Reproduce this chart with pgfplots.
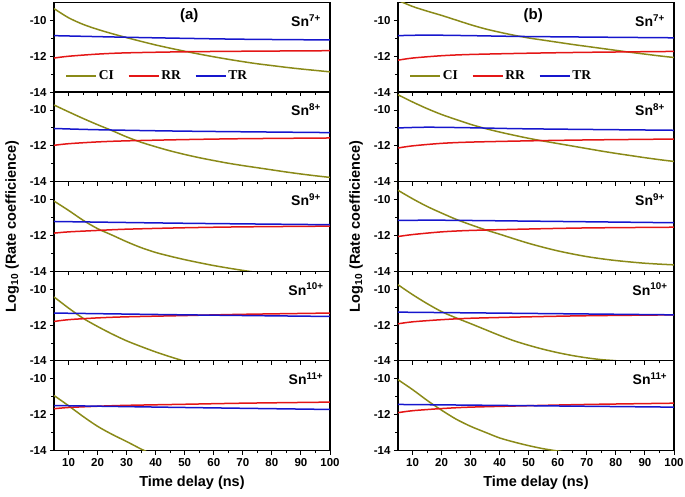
\documentclass[border=0pt]{standalone}
\usepackage{pgfplots}
\pgfplotsset{compat=1.18}
\usepgfplotslibrary{groupplots}
\usetikzlibrary{calc}
\usepackage{fontspec}
\setmainfont{Liberation Sans}
\newfontfamily\legfont{Liberation Serif}
\definecolor{ci}{RGB}{138,138,24}
\definecolor{rr}{RGB}{228,22,22}
\definecolor{tr}{RGB}{22,22,205}

\pgfplotsset{
    panel/.style={
        scale only axis, width=276pt, height=89.6pt,
        xmin=5, xmax=100, ymin=-14, ymax=-9,
        xtick={10,20,...,100}, minor x tick num=1,
        ytick={-14,-12,-10}, minor ytick={-13,-11},
        xtick pos=left, ytick pos=left,
        tick align=outside,
        major tick length=4pt, minor tick length=2.5pt,
        axis line style={line width=1.2pt},
        every tick/.style={black, line width=0.9pt},
        tick label style={font=\bfseries\fontsize{11.5}{12}\selectfont},
        label style={font=\bfseries\fontsize{14.5}{15}\selectfont},
        xlabel style={yshift=-3pt},
        ylabel style={yshift=4pt},
        /pgf/number format/assume math mode=true,
        every axis plot/.append style={line width=1.5pt, no markers, smooth},
    },
    leg/.style={
        legend style={at={(0.03,0.18)}, anchor=west, draw=none, fill=none,
            font=\legfont\bfseries\fontsize{13.5}{14}\selectfont,
            /tikz/every even column/.append style={column sep=12pt}},
        legend columns=3,
        legend image code/.code={\draw[##1] (0pt,0pt) -- (30pt,0pt);},
    },
}
\newcommand{\sn}[1]{\node[font=\bfseries\fontsize{14}{15}\selectfont] at (rel axis cs:0.913,0.8) {Sn\textsuperscript{#1}};}

\begin{document}
\begin{tikzpicture}
\begin{groupplot}[
    group style={group size=2 by 5, horizontal sep=68pt, vertical sep=0pt,
        xticklabels at=edge bottom},
    panel]
% ---- row 1: Sn7+
\nextgroupplot[leg]
\coordinate (TL) at (rel axis cs:0,1);
\addplot[ci] coordinates {(5,-9.34)(10,-9.85)(15,-10.22)(20,-10.5)(25,-10.74)(30,-10.96)(35,-11.17)(40,-11.37)(45,-11.55)(50,-11.72)(55,-11.88)(60,-12.03)(65,-12.17)(70,-12.3)(75,-12.42)(80,-12.52)(85,-12.62)(90,-12.71)(95,-12.79)(100,-12.87)};
\addlegendentry{CI}
\addplot[rr] coordinates {(5,-12.1)(10,-12.0)(20,-11.88)(30,-11.81)(50,-11.75)(70,-11.72)(100,-11.69)};
\addlegendentry{RR}
\addplot[tr] coordinates {(5,-10.85)(30,-10.94)(50,-11.0)(70,-11.05)(100,-11.09)};
\addlegendentry{TR}
\sn{7+}
\node[font=\bfseries\fontsize{15}{16}\selectfont] at (rel axis cs:0.49,0.85) {(a)};

\nextgroupplot[leg]
\addplot[ci] coordinates {(5,-8.88)(10,-9.22)(15,-9.48)(20,-9.72)(25,-9.98)(30,-10.24)(35,-10.47)(40,-10.66)(45,-10.83)(50,-10.98)(55,-11.1)(60,-11.22)(65,-11.34)(70,-11.45)(75,-11.56)(80,-11.67)(85,-11.78)(90,-11.88)(95,-11.98)(100,-12.07)};
\addlegendentry{CI}
\addplot[rr] coordinates {(5,-12.22)(10,-12.1)(20,-11.97)(30,-11.9)(50,-11.83)(70,-11.78)(100,-11.73)};
\addlegendentry{RR}
\addplot[tr] coordinates {(5,-10.85)(15,-10.82)(30,-10.85)(50,-10.9)(100,-10.97)};
\addlegendentry{TR}
\sn{7+}
\node[font=\bfseries\fontsize{15}{16}\selectfont] at (rel axis cs:0.49,0.85) {(b)};

% ---- row 2: Sn8+
\nextgroupplot
\addplot[ci] coordinates {(5,-9.72)(10,-10.1)(15,-10.47)(20,-10.82)(25,-11.15)(30,-11.5)(35,-11.8)(40,-12.05)(45,-12.28)(50,-12.48)(55,-12.66)(60,-12.82)(65,-12.97)(70,-13.1)(75,-13.22)(80,-13.34)(85,-13.46)(90,-13.57)(95,-13.67)(100,-13.76)};
\addplot[rr] coordinates {(5,-11.97)(10,-11.88)(20,-11.78)(30,-11.72)(50,-11.65)(70,-11.6)(100,-11.56)};
\addplot[tr] coordinates {(5,-11.03)(20,-11.1)(50,-11.18)(100,-11.26)};
\sn{8+}

\nextgroupplot
\addplot[ci] coordinates {(5,-9.15)(10,-9.55)(15,-9.92)(20,-10.25)(25,-10.53)(30,-10.8)(35,-11.03)(40,-11.23)(45,-11.41)(50,-11.58)(55,-11.73)(60,-11.87)(65,-12.01)(70,-12.15)(75,-12.29)(80,-12.42)(85,-12.54)(90,-12.66)(95,-12.77)(100,-12.87)};
\addplot[rr] coordinates {(5,-12.12)(10,-12.0)(20,-11.86)(30,-11.79)(50,-11.72)(70,-11.67)(100,-11.62)};
\addplot[tr] coordinates {(5,-11.0)(15,-10.96)(30,-10.99)(50,-11.05)(100,-11.13)};
\sn{8+}

% ---- row 3: Sn9+
\nextgroupplot[ylabel={Log\textsubscript{10} (Rate coefficience)}]
\addplot[ci] coordinates {(5,-10.08)(10,-10.6)(15,-11.15)(20,-11.62)(25,-11.98)(30,-12.35)(35,-12.68)(40,-12.95)(45,-13.16)(50,-13.35)(55,-13.52)(60,-13.68)(65,-13.82)(70,-13.95)(75,-14.07)};
\addplot[rr] coordinates {(5,-11.87)(10,-11.8)(20,-11.72)(30,-11.65)(50,-11.57)(70,-11.52)(100,-11.48)};
\addplot[tr] coordinates {(5,-11.22)(50,-11.32)(100,-11.4)};
\sn{9+}

\nextgroupplot[ylabel={Log\textsubscript{10} (Rate coefficience)}]
\addplot[ci] coordinates {(5,-9.48)(10,-9.95)(15,-10.38)(20,-10.75)(25,-11.1)(30,-11.4)(35,-11.68)(40,-11.93)(45,-12.19)(50,-12.44)(55,-12.66)(60,-12.86)(65,-13.03)(70,-13.18)(75,-13.3)(80,-13.4)(85,-13.48)(90,-13.55)(95,-13.6)(100,-13.64)};
\addplot[rr] coordinates {(5,-12.06)(10,-11.95)(20,-11.8)(30,-11.72)(50,-11.64)(70,-11.58)(100,-11.54)};
\addplot[tr] coordinates {(5,-11.16)(20,-11.15)(50,-11.2)(100,-11.29)};
\sn{9+}

% ---- row 4: Sn10+
\nextgroupplot
\addplot[ci] coordinates {(5,-10.43)(10,-11.05)(15,-11.62)(20,-12.08)(25,-12.5)(30,-12.88)(35,-13.2)(40,-13.5)(45,-13.77)(50,-14.02)(55,-14.25)};
\addplot[rr] coordinates {(5,-11.8)(10,-11.7)(20,-11.6)(30,-11.54)(50,-11.47)(70,-11.4)(100,-11.33)};
\addplot[tr] coordinates {(5,-11.33)(50,-11.43)(100,-11.52)};
\sn{10+}

\nextgroupplot
\addplot[ci] coordinates {(5,-9.75)(10,-10.3)(15,-10.8)(20,-11.25)(25,-11.6)(30,-11.92)(35,-12.25)(40,-12.58)(45,-12.88)(50,-13.13)(55,-13.35)(60,-13.54)(65,-13.7)(70,-13.83)(75,-13.93)(80,-13.99)(85,-14.08)};
\addplot[rr] coordinates {(5,-11.93)(10,-11.82)(20,-11.7)(30,-11.62)(50,-11.54)(70,-11.48)(100,-11.43)};
\addplot[tr] coordinates {(5,-11.28)(50,-11.35)(100,-11.43)};
\sn{10+}

% ---- row 5: Sn11+
\nextgroupplot[xlabel={Time delay (ns)}]
\addplot[ci] coordinates {(5,-10.93)(10,-11.5)(15,-12.1)(20,-12.65)(25,-13.1)(30,-13.5)(35,-13.92)(40,-14.3)};
\addplot[rr] coordinates {(5,-11.67)(10,-11.6)(20,-11.53)(30,-11.48)(50,-11.42)(70,-11.36)(100,-11.3)};
\addplot[tr] coordinates {(5,-11.49)(50,-11.6)(100,-11.71)};
\sn{11+}

\nextgroupplot[xlabel={Time delay (ns)}]
\addplot[ci] coordinates {(5,-10.05)(10,-10.6)(15,-11.2)(20,-11.75)(25,-12.25)(30,-12.65)(35,-12.98)(40,-13.3)(45,-13.53)(50,-13.73)(55,-13.9)(60,-14.03)(65,-14.15)};
\addplot[rr] coordinates {(5,-11.89)(10,-11.78)(20,-11.66)(30,-11.58)(50,-11.5)(70,-11.43)(100,-11.36)};
\addplot[tr] coordinates {(5,-11.43)(50,-11.5)(100,-11.58)};
\sn{11+}
\end{groupplot}
\pgfresetboundingbox
\path ($(TL)+(-54pt,2.5pt)$) rectangle ($(TL)+(631pt,-494.5pt)$);
\end{tikzpicture}
\end{document}
